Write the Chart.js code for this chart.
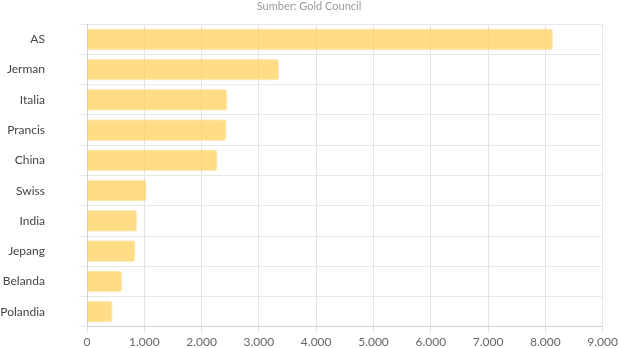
<!DOCTYPE html>
<html>
<head>
<meta charset="utf-8">
<script src="https://cdn.jsdelivr.net/npm/chart.js@4"></script>
<style>
  html, body { margin: 0; padding: 0; overflow: hidden; background: #fff; }
  #goldChart { position: absolute; left: 0; top: -17px; }
</style>
</head>
<body>
<canvas id="goldChart" width="620" height="385"></canvas>
<script>
// cadangan emas (ton)
const negara = ["AS", "Jerman", "Italia", "Prancis", "China", "Swiss", "India", "Jepang", "Belanda", "Polandia"];
const cadangan = [8133, 3352, 2451, 2436, 2280, 1040, 876, 846, 612, 448];
const sumber = "Sumber: Gold Council";

const fontUI = "Lato, 'Open Sans', sans-serif";

const ctx = document.getElementById("goldChart").getContext("2d");
new Chart(ctx, {
  type: "bar",
  data: {
    labels: negara,
    datasets: [{
      label: "Cadangan emas",
      data: cadangan,
      backgroundColor: "rgba(255, 206, 86, 0.72)",
      borderColor: "rgba(255, 214, 120, 0.5)",
      borderWidth: 1,
      borderRadius: 3,
      borderSkipped: "start"
    }]
  },
  options: {
    indexAxis: "y",
    responsive: false,
    animation: false,
    layout: { padding: { left: 0, right: 2, bottom: 0 } },
    plugins: {
      legend: { display: false },
      tooltip: { enabled: false },
      subtitle: {
        display: true,
        text: sumber,
        color: "#9a9a9a",
        font: { family: fontUI, size: 11 },
        padding: { top: 6, bottom: 11 }
      }
    },
    scales: {
      x: {
        min: 0,
        max: 9000,
        ticks: {
          stepSize: 1000,
          color: "#666",
          font: { family: fontUI, size: 12 },
          maxRotation: 0,
          padding: 2,
          callback: v => v.toLocaleString("de-DE")
        },
        grid: { color: "#e4e4e4", tickLength: 6 },
        border: { color: "#d0d0d0" }
      },
      y: {
        afterFit: scale => { scale.width = 87; },
        ticks: {
          color: "#444",
          font: { family: fontUI, size: 12 },
          padding: 34
        },
        grid: { color: "#e8e8e8", offset: true, tickLength: 8 },
        border: { color: "#d0d0d0" }
      }
    }
  }
});
</script>
</body>
</html>
